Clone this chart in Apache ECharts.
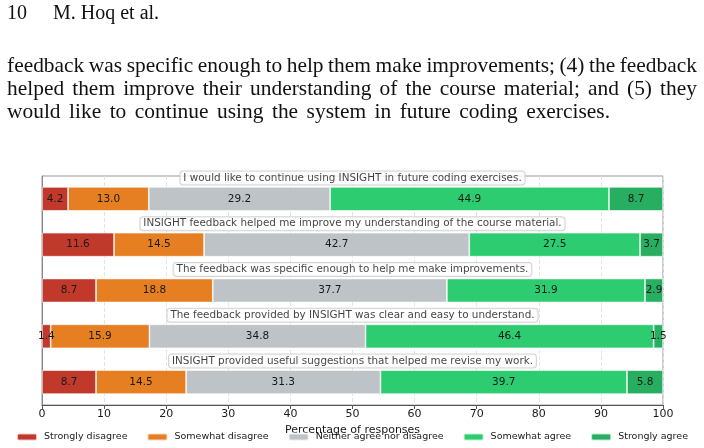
<!DOCTYPE html>
<html>
<head>
    <meta charset="utf-8" />
    <title>INSIGHT survey</title>
    <script src="https://cdn.jsdelivr.net/npm/echarts@6.0.0/dist/echarts.min.js"></script>
    <style>
        body { margin: 0; background: #fff; }
    </style>
</head>
<body>
    <div id="main" style="width: 704px;height:448px;"></div>
    <script type="text/javascript">
        // survey statements, top to bottom
        var questions = [
            'I would like to continue using INSIGHT in future coding exercises.',
            'INSIGHT feedback helped me improve my understanding of the course material.',
            'The feedback was specific enough to help me make improvements.',
            'The feedback provided by INSIGHT was clear and easy to understand.',
            'INSIGHT provided useful suggestions that helped me revise my work.'
        ];
        var levels = ['Strongly disagree', 'Somewhat disagree', 'Neither agree nor disagree', 'Somewhat agree', 'Strongly agree'];
        // percentages per level, one value per question
        var stronglyDisagree = [4.2, 11.6, 8.7, 1.4, 8.7];
        var somewhatDisagree = [13.0, 14.5, 18.8, 15.9, 14.5];
        var neutral = [29.2, 42.7, 37.7, 34.8, 31.3];
        var somewhatAgree = [44.9, 27.5, 31.9, 46.4, 39.7];
        var stronglyAgree = [8.7, 3.7, 2.9, 1.5, 5.8];
        var colors = ['#c0392b', '#e67e22', '#bdc3c7', '#2ecc71', '#27ae60'];

        var headerLines = [
            'feedback was specific enough to help them make improvements; (4) the feedback',
            'helped them improve their understanding of the course material; and (5) they',
            'would like to continue using the system in future coding exercises.'
        ];

        var myChart = echarts.init(document.getElementById('main'));

        var serif = '21px "Liberation Serif", "DejaVu Serif", serif';
        var wide = 1.02; // stretch glyphs a little, the page font is wider than Times
        var ctx = document.createElement('canvas').getContext('2d');
        ctx.font = serif;

        var graphics = [
            { type: 'text', left: 7, top: 4, style: { text: '10', font: '20px "Liberation Serif"', fill: '#111' } },
            { type: 'text', left: 53, top: 4, style: { text: 'M. Hoq et al.', font: '20px "Liberation Serif"', fill: '#111' } }
        ];
        // justified paragraph lines
        var textLeft = 7, lineEnds = [697, 697, 610];
        headerLines.forEach(function (line, i) {
            var words = line.split(' ');
            var widths = words.map(function (w) { return ctx.measureText(w).width * wide; });
            var total = widths.reduce(function (a, b) { return a + b; }, 0);
            var gap = (lineEnds[i] - textLeft - total) / (words.length - 1);
            var x = textLeft;
            words.forEach(function (w, j) {
                graphics.push({
                    type: 'text', x: x, y: 56 + i * 23, scaleX: wide,
                    style: { text: w, font: serif, fill: '#111' }
                });
                x += widths[j] + gap;
            });
        });

        var allData = [stronglyDisagree, somewhatDisagree, neutral, somewhatAgree, stronglyAgree];
        var series = allData.map(function (d, k) {
            return {
                name: levels[k],
                type: 'bar',
                stack: 'total',
                barWidth: 24,
                data: d,
                itemStyle: { color: colors[k], borderColor: 'rgba(255,255,255,0.7)', borderWidth: 0.8 },
                label: {
                    show: true,
                    position: 'inside',
                    color: '#1a1a1a',
                    fontSize: 10.5,
                    fontFamily: 'DejaVu Sans',
                    formatter: function (p) { return p.value.toFixed(1); }
                }
            };
        });
        // statement captions above each bar
        series.push({
            type: 'scatter',
            symbolSize: 1,
            itemStyle: { color: 'rgba(0,0,0,0)' },
            silent: true,
            z: 10,
            data: questions.map(function (q, i) { return [50, i]; }),
            label: {
                show: true,
                position: 'inside',
                offset: [0, -21],
                formatter: function (p) { return questions[p.dataIndex]; },
                backgroundColor: '#fff',
                borderColor: '#c8c8c8',
                borderWidth: 1,
                borderRadius: 3,
                padding: [2, 3, 1, 3],
                color: '#111',
                fontSize: 10.4,
                fontFamily: 'DejaVu Sans'
            }
        });

        var option = {
            animation: false,
            graphic: graphics,
            legend: {
                data: levels,
                left: 'center',
                bottom: 1,
                itemWidth: 20,
                itemHeight: 7,
                itemGap: 19,
                textStyle: { fontSize: 9.5, color: '#1a1a1a', fontFamily: 'DejaVu Sans', padding: [0, 0, 0, 2] }
            },
            grid: {
                left: 42, right: 41, top: 176, bottom: 43,
                show: true, borderColor: '#999', borderWidth: 1
            },
            xAxis: {
                type: 'value',
                min: 0,
                max: 100,
                interval: 10,
                name: 'Percentage of responses',
                nameLocation: 'middle',
                nameGap: 20,
                nameTextStyle: { fontSize: 11, color: '#1a1a1a', fontFamily: 'DejaVu Sans' },
                axisLine: { show: true, lineStyle: { color: '#555' } },
                axisTick: { show: true, length: 4, lineStyle: { color: '#555' } },
                axisLabel: { fontSize: 11, color: '#1a1a1a', margin: 4, fontFamily: 'DejaVu Sans' },
                splitLine: { show: true, lineStyle: { color: '#e4e4e4', type: 'dashed' } }
            },
            yAxis: {
                type: 'category',
                data: questions,
                inverse: true,
                axisLine: { show: true, lineStyle: { color: '#888' } },
                axisTick: { show: false },
                axisLabel: { show: false }
            },
            series: series
        };

        myChart.setOption(option);
    </script>
</body>
</html>
